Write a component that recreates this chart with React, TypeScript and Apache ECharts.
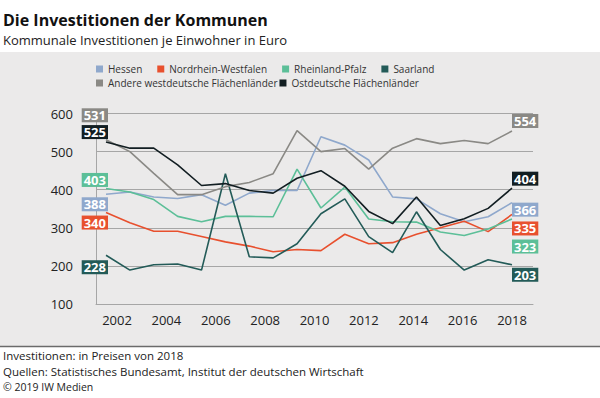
import React, { useEffect, useRef } from 'react';
import * as echarts from 'echarts';

const years = [2001, 2002, 2003, 2004, 2005, 2006, 2007, 2008, 2009, 2010, 2011, 2012, 2013, 2014, 2015, 2016, 2017, 2018];
const tickYears = [2002, 2004, 2006, 2008, 2010, 2012, 2014, 2016, 2018];

const hessen = [388, 394, 381, 377, 387, 359, 391, 398, 398, 539, 517, 478, 381, 376, 337, 316, 329, 366];
const nrw = [340, 313, 291, 291, 277, 263, 252, 237, 243, 240, 283, 258, 261, 283, 300, 317, 290, 335];
const rlp = [403, 394, 374, 330, 316, 330, 330, 329, 454, 352, 407, 323, 316, 315, 289, 280, 297, 323];
const saarland = [228, 189, 203, 205, 189, 442, 224, 221, 258, 337, 376, 277, 235, 342, 243, 189, 216, 203];
const andere = [531, 500, 443, 387, 387, 408, 419, 442, 555, 500, 508, 454, 509, 534, 521, 529, 521, 554];
const ost = [525, 509, 509, 465, 411, 416, 398, 391, 430, 450, 409, 343, 311, 381, 306, 324, 351, 404];

const FONT = 'Open Sans';

const defs = [
  { name: 'Hessen', data: hessen, color: '#8fa8cc', dyL: 10, dyR: 7 },
  { name: 'Nordrhein-Westfalen', data: nrw, color: '#e8502e', dyL: 10, dyR: 14 },
  { name: 'Rheinland-Pfalz', data: rlp, color: '#5cbf98', dyL: -8.6, dyR: 27.5 },
  { name: 'Saarland', data: saarland, color: '#235b58', dyL: 12, dyR: 10 },
  { name: 'Andere westdeutsche Flächenländer', data: andere, color: '#8a8985', dyL: -24.5, dyR: -10 },
  { name: 'Ostdeutsche Flächenländer', data: ost, color: '#121e22', dyL: -10, dyR: -9.5 },
];

export default function App() {
  const ref = useRef<HTMLDivElement>(null);
  useEffect(() => {
    document.body.style.margin = '0';
    const chart = echarts.init(ref.current!, null, { renderer: 'svg' });
    const labelBase = (color: string) => ({
      show: true,
      color: '#fff',
      fontWeight: 'bold',
      fontSize: 13,
      lineHeight: 14,
      fontFamily: FONT,
      backgroundColor: color,
      padding: [0, 2, 0, 2],
      formatter: (p: any) => String(p.value[1]),
    });
    const series = defs.map((d) => ({
      name: d.name,
      type: 'line',
      xAxisIndex: 0,
      symbol: 'circle',
      symbolSize: 0,
      showSymbol: true,
      color: d.color,
      lineStyle: { color: d.color, width: 1.6 },
      label: { show: false },
      emphasis: { disabled: true },
      data: d.data.map((v, i) => {
        const item: any = { value: [years[i], v] };
        if (i === 0) {
          item.label = { ...labelBase(d.color), position: 'left', distance: 0, offset: [2, d.dyL] };
        } else if (i === d.data.length - 1) {
          item.label = { ...labelBase(d.color), position: 'right', distance: 0, offset: [0, d.dyR] };
        }
        return item;
      }),
    }));
    const legendCommon = {
      icon: 'rect',
      itemWidth: 7,
      itemHeight: 7,
      padding: 0,
      left: 96,
      selectedMode: false,
      textStyle: { fontSize: 10, color: '#333', fontFamily: FONT },
    };
    const txt = (x: number, y: number, text: string, fontSize: number, extra: any = {}) => ({
      type: 'text',
      x,
      y,
      style: { text, fontSize, lineHeight: fontSize, fill: '#222', fontFamily: FONT, verticalAlign: 'middle', ...extra },
    });
    chart.setOption({
      animation: false,
      textStyle: { fontFamily: FONT },
      grid: { left: 96, right: 67, top: 113.5, bottom: 94, containLabel: false },
      legend: [
        { ...legendCommon, top: 64, itemGap: 15, data: defs.slice(0, 4).map((d) => d.name) },
        { ...legendCommon, top: 78, itemGap: 2, data: defs.slice(4).map((d) => d.name) },
      ],
      xAxis: [
        {
          type: 'value',
          min: 2001 - 10 / 23.88,
          max: 2018 + 21 / 23.88,
          show: false,
          splitLine: { show: false },
        },
        {
          type: 'value',
          position: 'bottom',
          min: 2001.15,
          max: 2018.85,
          splitLine: { show: false },
          axisTick: { show: false },
          axisLine: { show: true, onZero: false, lineStyle: { color: '#a6a6a6', width: 1 } },
          axisLabel: {
            customValues: tickYears,
            formatter: (v: number) => String(v),
            fontSize: 13,
            color: '#222',
            margin: 9,
            fontFamily: FONT,
          },
        },
      ],
      yAxis: {
        type: 'value',
        min: 100,
        max: 600,
        interval: 100,
        axisLine: { show: true, lineStyle: { color: '#a6a6a6', width: 1 } },
        axisTick: { show: false },
        splitLine: { lineStyle: { color: '#a6a6a6', width: 1 } },
        axisLabel: { fontSize: 13, color: '#222', margin: 23, fontFamily: FONT },
      },
      graphic: [
        { type: 'rect', z: -100, shape: { x: 0, y: 52, width: 600, height: 294 }, style: { fill: '#ebeaea' } },
        { type: 'line', z: -99, shape: { x1: 0, y1: 346.5, x2: 600, y2: 346.5 }, style: { stroke: '#6b6b6b', lineWidth: 1.5 } },
        txt(3, 20, 'Die Investitionen der Kommunen', 16, { fontWeight: 'bold', fill: '#111' }),
        txt(3, 40, 'Kommunale Investitionen je Einwohner in Euro', 13),
        txt(3, 355.5, 'Investitionen: in Preisen von 2018', 11.5),
        txt(3, 371, 'Quellen: Statistisches Bundesamt, Institut der deutschen Wirtschaft', 11.5),
        txt(3, 386.5, '© 2019 IW Medien', 10.5),
      ],
      series,
    });
    return () => chart.dispose();
  }, []);
  return <div ref={ref} style={{ width: 600, height: 398 }} />;
}
